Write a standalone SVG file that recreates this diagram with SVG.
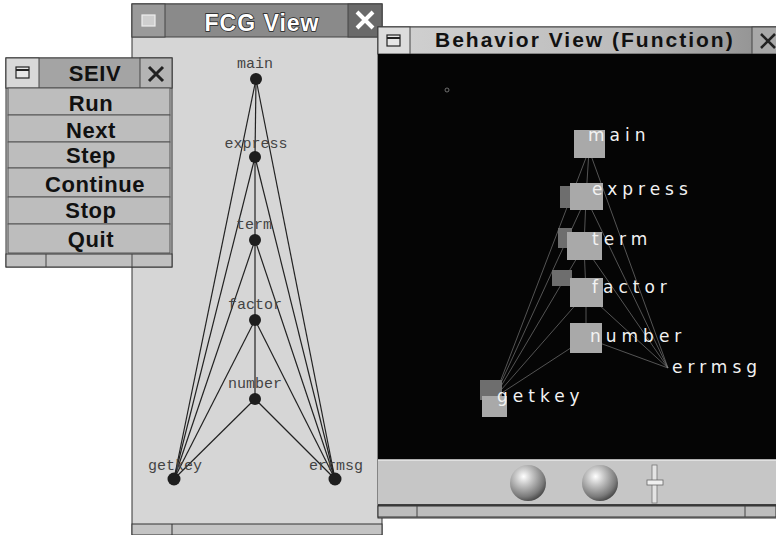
<svg xmlns="http://www.w3.org/2000/svg" width="776" height="535" viewBox="0 0 776 535">
<style>
.frame{fill:#d6d6d6;stroke:#333;stroke-width:1}
.tb{stroke:#444;stroke-width:1}
.btn{fill:#bdbdbd;stroke:#555;stroke-width:1}
.btxt{font-family:"Liberation Sans",Arial,sans-serif;font-weight:700;font-size:22px;fill:#111;text-anchor:middle;letter-spacing:0.6px}
.ttl{font-family:"Liberation Sans",Arial,sans-serif;font-weight:700}
.fcgt{font-size:23px;fill:#fff;stroke:#222;stroke-width:1.5px;paint-order:stroke;text-anchor:middle;letter-spacing:1px}
.bvt{font-size:21px;fill:#111;letter-spacing:2px}
.flbl{font-family:"Liberation Mono","DejaVu Sans Mono",monospace;font-size:15px;fill:#444;text-anchor:middle}
.fnode{fill:#1e1e1e}
.fedge{stroke:#222;stroke-width:1.2;fill:none}
.bedge{stroke:#8a8a8a;stroke-width:0.8;fill:none;opacity:0.75}
.bsq{fill:#a9a9a9}
.bsh{fill:#6e6e6e}
.blbl{font-family:"DejaVu Sans","Liberation Sans",sans-serif;font-size:17px;fill:#f2f2f2;letter-spacing:5px}
.icon{fill:#e6e6e6;stroke:#222;stroke-width:1.2}
</style>
<defs>
<linearGradient id="bvTitle" x1="0" y1="0" x2="1" y2="0">
<stop offset="0" stop-color="#d2d2d2"/>
<stop offset="0.6" stop-color="#bcbcbc"/>
<stop offset="1" stop-color="#8e8e8e"/>
</linearGradient>
<radialGradient id="ball" cx="0.38" cy="0.32" r="0.75">
<stop offset="0" stop-color="#ffffff"/>
<stop offset="0.3" stop-color="#c8c8c8"/>
<stop offset="0.75" stop-color="#7a7a7a"/>
<stop offset="1" stop-color="#3a3a3a"/>
</radialGradient>
</defs>
<rect width="776" height="535" fill="#ffffff"/>

<!-- FCG View window -->
<g id="win-fcg">
<rect x="132" y="4" width="250" height="531" class="frame" fill="#dadada"/>
<rect x="132" y="4" width="250" height="33" fill="#8a8a8a" class="tb"/>
<rect x="132" y="4" width="33" height="33" fill="#9a9a9a" class="tb"/>
<rect x="142" y="15" width="13" height="11" fill="#cfcfcf" stroke="#eee" stroke-width="1.2"/>
<rect x="348" y="4" width="34" height="33" fill="#6a6a6a" class="tb"/>
<path d="M357 12 L373 28 M373 12 L357 28" stroke="#fff" stroke-width="4"/>
<text class="ttl fcgt" x="262" y="31">FCG View</text>
<rect x="132" y="524" width="250" height="11" fill="#c4c4c4" stroke="#333" stroke-width="1"/>
<line x1="172" y1="524" x2="172" y2="535" stroke="#333"/>

<g id="fcg-connectors">
<line class="fedge" x1="256" y1="79" x2="255" y2="157"/>
<line class="fedge" x1="255" y1="157" x2="255" y2="240"/>
<line class="fedge" x1="255" y1="240" x2="255" y2="320"/>
<line class="fedge" x1="255" y1="320" x2="255" y2="399"/>
<line class="fedge" x1="256" y1="79" x2="174" y2="479"/>
<line class="fedge" x1="256" y1="79" x2="335" y2="479"/>
<line class="fedge" x1="255" y1="157" x2="174" y2="479"/>
<line class="fedge" x1="255" y1="157" x2="335" y2="479"/>
<line class="fedge" x1="255" y1="240" x2="174" y2="479"/>
<line class="fedge" x1="255" y1="240" x2="335" y2="479"/>
<line class="fedge" x1="255" y1="320" x2="174" y2="479"/>
<line class="fedge" x1="255" y1="320" x2="335" y2="479"/>
<line class="fedge" x1="255" y1="399" x2="174" y2="479"/>
<line class="fedge" x1="255" y1="399" x2="335" y2="479"/>
</g>
<g id="fcg-main"><text class="flbl" x="255" y="68">main</text><circle class="fnode" cx="256" cy="79" r="6"/></g>
<g id="fcg-express"><text class="flbl" x="256" y="148">express</text><circle class="fnode" cx="255" cy="157" r="6"/></g>
<g id="fcg-term"><text class="flbl" x="254" y="229">term</text><circle class="fnode" cx="255" cy="240" r="6"/></g>
<g id="fcg-factor"><text class="flbl" x="255" y="309">factor</text><circle class="fnode" cx="255" cy="320" r="6"/></g>
<g id="fcg-number"><text class="flbl" x="255" y="388">number</text><circle class="fnode" cx="255" cy="399" r="6"/></g>
<g id="fcg-getkey"><text class="flbl" x="175" y="470">getkey</text><circle class="fnode" cx="174" cy="479" r="6.5"/></g>
<g id="fcg-errmsg"><text class="flbl" x="336" y="470">errmsg</text><circle class="fnode" cx="335" cy="479" r="6.5"/></g>
</g>

<!-- SEIV window -->
<g id="win-seiv">
<rect x="6" y="58" width="166" height="209" fill="#cdcdcd" stroke="#333" stroke-width="1"/>
<rect x="6" y="58" width="166" height="30" fill="#a4a4a4" class="tb"/>
<rect x="6" y="58" width="33" height="30" fill="#d8d8d8" class="tb"/>
<rect x="16" y="67" width="13" height="11" class="icon"/>
<line x1="16" y1="70" x2="29" y2="70" stroke="#222" stroke-width="2"/>
<rect x="140" y="58" width="32" height="30" fill="#b4b4b4" class="tb"/>
<path d="M149 67 L163 81 M163 67 L149 81" stroke="#222" stroke-width="3"/>
<text class="btxt" x="95" y="81">SEIV</text>
<g id="btn-run"><rect class="btn" x="8" y="88" width="162" height="27"/><text class="btxt" x="91" y="111">Run</text></g>
<g id="btn-next"><rect class="btn" x="8" y="115" width="162" height="27"/><text class="btxt" x="91" y="138">Next</text></g>
<g id="btn-step"><rect class="btn" x="8" y="142" width="162" height="26"/><text class="btxt" x="91" y="163">Step</text></g>
<g id="btn-continue"><rect class="btn" x="8" y="168" width="162" height="29"/><text class="btxt" x="95" y="192">Continue</text></g>
<g id="btn-stop"><rect class="btn" x="8" y="197" width="162" height="27"/><text class="btxt" x="91" y="218">Stop</text></g>
<g id="btn-quit"><rect class="btn" x="8" y="224" width="162" height="29"/><text class="btxt" x="91" y="247">Quit</text></g>
<rect x="6" y="254" width="166" height="13" fill="#c0c0c0" stroke="#333" stroke-width="1"/>
<line x1="46" y1="254" x2="46" y2="267" stroke="#444"/>
<line x1="132" y1="254" x2="132" y2="267" stroke="#444"/>
</g>

<!-- Behavior View window -->
<g id="win-behavior">
<rect x="378" y="27" width="400" height="491" fill="#c8c8c8" stroke="#333" stroke-width="1"/>
<rect x="378" y="27" width="400" height="27" fill="url(#bvTitle)" class="tb"/>
<rect x="378" y="27" width="32" height="27" fill="#dcdcdc" class="tb"/>
<rect x="387" y="35" width="13" height="11" class="icon"/>
<line x1="387" y1="38" x2="400" y2="38" stroke="#222" stroke-width="2"/>
<rect x="752" y="27" width="26" height="27" fill="#a8a8a8" class="tb"/>
<path d="M761 34 L775 48 M775 34 L761 48" stroke="#222" stroke-width="2.5"/>
<text class="ttl bvt" x="435" y="47">Behavior View (Function)</text>
<rect x="378" y="54" width="398" height="406" fill="#050505"/>
<circle cx="447" cy="90" r="2" fill="none" stroke="#888" stroke-width="0.8"/>

<g id="bv-connectors">
<line class="bedge" x1="589" y1="150" x2="586" y2="198"/>
<line class="bedge" x1="586" y1="198" x2="584" y2="246"/>
<line class="bedge" x1="584" y1="246" x2="586" y2="293"/>
<line class="bedge" x1="586" y1="293" x2="586" y2="338"/>
<line class="bedge" x1="589" y1="150" x2="494" y2="398"/>
<line class="bedge" x1="586" y1="198" x2="494" y2="398"/>
<line class="bedge" x1="584" y1="246" x2="494" y2="398"/>
<line class="bedge" x1="586" y1="293" x2="494" y2="398"/>
<line class="bedge" x1="586" y1="338" x2="494" y2="398"/>
<line class="bedge" x1="589" y1="150" x2="668" y2="368"/>
<line class="bedge" x1="586" y1="198" x2="668" y2="368"/>
<line class="bedge" x1="584" y1="246" x2="668" y2="368"/>
<line class="bedge" x1="586" y1="293" x2="668" y2="368"/>
<line class="bedge" x1="586" y1="338" x2="668" y2="368"/>
</g>

<g id="bv-main"><rect class="bsq" x="574" y="130" width="31" height="28"/><text class="blbl" x="588" y="141">main</text></g>
<g id="bv-express"><rect class="bsh" x="560" y="186" width="14" height="22"/><rect class="bsq" x="570" y="183" width="33" height="27"/><text class="blbl" x="592" y="195">express</text></g>
<g id="bv-term"><rect class="bsh" x="558" y="228" width="14" height="20"/><rect class="bsq" x="567" y="232" width="35" height="28"/><text class="blbl" x="592" y="245">term</text></g>
<g id="bv-factor"><rect class="bsh" x="552" y="270" width="20" height="16"/><rect class="bsq" x="570" y="278" width="33" height="29"/><text class="blbl" x="592" y="293">factor</text></g>
<g id="bv-number"><rect class="bsq" x="570" y="323" width="32" height="30"/><text class="blbl" x="590" y="342">number</text></g>
<g id="bv-errmsg"><text class="blbl" x="672" y="373" letter-spacing="4">errmsg</text></g>
<g id="bv-getkey"><rect class="bsh" x="480" y="380" width="22" height="20"/><rect class="bsq" x="482" y="396" width="25" height="21"/><text class="blbl" x="497" y="402">getkey</text></g>

<rect x="378" y="460" width="398" height="45" fill="#c6c6c6"/>
<line x1="378" y1="460" x2="776" y2="460" stroke="#e8e8e8" stroke-width="1.5"/>
<circle cx="528" cy="483" r="18" fill="url(#ball)"/>
<circle cx="600" cy="483" r="18" fill="url(#ball)"/>
<rect x="652" y="465" width="5" height="38" fill="#e4e4e4" stroke="#777" stroke-width="0.8"/>
<rect x="647" y="480" width="16" height="5" fill="#f0f0f0" stroke="#666" stroke-width="0.8"/>
<line x1="378" y1="505" x2="776" y2="505" stroke="#111" stroke-width="1.5"/>
<rect x="378" y="506" width="398" height="11" fill="#bdbdbd" stroke="#333" stroke-width="1"/>
<line x1="417" y1="506" x2="417" y2="517" stroke="#444"/>
<line x1="745" y1="506" x2="745" y2="517" stroke="#444"/>
</g>
</svg>
